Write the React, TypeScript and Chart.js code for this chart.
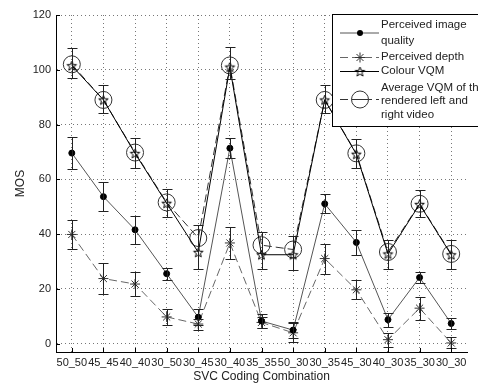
import React, { useEffect, useRef } from 'react';
import { Chart, registerables } from 'chart.js';

Chart.register(...registerables);

const categories = ['50_50', '45_45', '40_40', '30_50', '30_45', '30_40', '35_35', '50_30', '30_35', '45_30', '40_30', '35_30', '30_30'];

const imageQuality = [69.6, 53.7, 41.6, 25.6, 9.7, 71.4, 8.3, 5.0, 51.1, 37.0, 8.8, 24.2, 7.4];
const imageQualityErr = [5.7, 5.3, 5.0, 2.2, 3.0, 3.6, 2.7, 3.0, 3.5, 4.5, 2.5, 1.9, 2.0];

const perceivedDepth = [39.9, 23.8, 21.8, 9.8, 7.2, 36.8, 7.8, 4.0, 31.1, 19.7, 1.5, 13.0, 0.3];
const perceivedDepthErr = [5.4, 5.6, 4.3, 3.0, 2.0, 6.0, 2.0, 3.5, 5.5, 3.5, 2.5, 4.2, 2.0];

const colourVQM = [101.5, 89.0, 69.5, 51.3, 33.4, 101.0, 32.5, 32.5, 89.0, 69.2, 32.8, 50.9, 32.5];
const colourVQMErrUp = [6.6, 5.3, 5.5, 5.1, 10.1, 7.4, 8.3, 7.0, 5.3, 5.4, 5.2, 5.1, 5.2];
const colourVQMErrDown = [4.4, 4.9, 5.2, 5.0, 6.1, 4.2, 5.2, 5.5, 4.9, 4.9, 5.5, 4.7, 5.2];

const avgVQM = [102.0, 89.0, 69.8, 51.6, 38.6, 101.6, 36.0, 34.4, 89.0, 69.5, 33.5, 51.1, 32.8];

const yTicks = [0, 20, 40, 60, 80, 100, 120];
const yMin = -3;
const yMax = 120;

const seriesLabels = ['Perceived image quality', 'Perceived depth', 'Colour VQM', 'Average VQM of the rendered left and right video'];
const legendLines = [['Perceived image', 'quality'], ['Perceived depth'], ['Colour VQM'], ['Average VQM of the', 'rendered left and', 'right video']];

const FONT = '"Liberation Sans", Arial, sans-serif';
const TEXT = '#222';

function makePentagram(r: number, color: string) {
  const size = 13;
  const c = document.createElement('canvas');
  c.width = size;
  c.height = size;
  const ctx = c.getContext('2d')!;
  const cx = size / 2;
  const cy = size / 2 + 0.5;
  ctx.beginPath();
  for (let i = 0; i < 10; i++) {
    const ang = -Math.PI / 2 + (i * Math.PI) / 5;
    const rr = i % 2 === 0 ? r : r * 0.42;
    const x = cx + rr * Math.cos(ang);
    const y = cy + rr * Math.sin(ang);
    if (i === 0) ctx.moveTo(x, y);
    else ctx.lineTo(x, y);
  }
  ctx.closePath();
  ctx.strokeStyle = color;
  ctx.lineWidth = 1;
  ctx.stroke();
  return c;
}

export default function App() {
  const ref = useRef<HTMLCanvasElement>(null);

  useEffect(() => {
    const canvas = ref.current!;
    const pent = makePentagram(5, '#000');

    const errorSets = [
      { data: imageQuality, up: imageQualityErr, down: imageQualityErr, color: '#222' },
      { data: perceivedDepth, up: perceivedDepthErr, down: perceivedDepthErr, color: '#222' },
      { data: colourVQM, up: colourVQMErrUp, down: colourVQMErrDown, color: '#222' },
    ];

    const errorBarPlugin = {
      id: 'errorBars',
      afterDatasetsDraw(chart: any) {
        const { ctx } = chart;
        const xs = chart.scales.x;
        const ys = chart.scales.y;
        ctx.save();
        ctx.lineWidth = 1;
        errorSets.forEach((s) => {
          ctx.strokeStyle = s.color;
          s.data.forEach((v, i) => {
            const x = Math.round(xs.getPixelForValue(i)) + 0.5;
            const yTop = Math.round(ys.getPixelForValue(v + s.up[i])) + 0.5;
            const yBot = Math.round(ys.getPixelForValue(v - s.down[i])) + 0.5;
            ctx.beginPath();
            ctx.moveTo(x, yTop);
            ctx.lineTo(x, yBot);
            ctx.moveTo(x - 5, yTop);
            ctx.lineTo(x + 5, yTop);
            ctx.moveTo(x - 5, yBot);
            ctx.lineTo(x + 5, yBot);
            ctx.stroke();
          });
        });
        ctx.restore();
      },
      afterDraw(chart: any) {
        const { ctx, chartArea } = chart;
        const xs = chart.scales.x;
        const ys = chart.scales.y;
        ctx.save();
        // inward tick marks
        ctx.strokeStyle = '#000';
        ctx.lineWidth = 1;
        ctx.beginPath();
        yTicks.forEach((v) => {
          const y = Math.round(ys.getPixelForValue(v)) + 0.5;
          ctx.moveTo(chartArea.left, y);
          ctx.lineTo(chartArea.left + 4, y);
        });
        categories.forEach((_, i) => {
          const x = Math.round(xs.getPixelForValue(i)) + 0.5;
          ctx.moveTo(x, chartArea.bottom);
          ctx.lineTo(x, chartArea.bottom - 4);
        });
        ctx.stroke();

        // legend
        const lx = 332.5;
        const ly = 14.5;
        ctx.fillStyle = '#fff';
        ctx.fillRect(lx, ly, 170, 112);
        ctx.strokeStyle = '#000';
        ctx.strokeRect(lx, ly, 170, 112);

        const sx0 = 340;
        const sx1 = 379;
        const mx = 360;
        const tx = 381;
        ctx.font = `11.5px ${FONT}`;
        ctx.fillStyle = TEXT;
        ctx.textBaseline = 'middle';
        ctx.textAlign = 'left';

        const sampleYs = [33, 57.5, 71.5, 99.5];
        const textYs = [[25, 41], [57], [71], [87.5, 100.5, 114.5]];
        const dashes = [[], [8, 4], [], [8, 4]];
        const colors = ['#555', '#666', '#000', '#333'];
        sampleYs.forEach((sy, k) => {
          ctx.strokeStyle = colors[k];
          ctx.setLineDash(dashes[k]);
          ctx.beginPath();
          ctx.moveTo(sx0, sy);
          ctx.lineTo(sx1, sy);
          ctx.stroke();
          ctx.setLineDash([]);
          if (k === 0) {
            ctx.fillStyle = '#000';
            ctx.beginPath();
            ctx.arc(mx, sy, 3, 0, Math.PI * 2);
            ctx.fill();
          } else if (k === 1) {
            ctx.strokeStyle = '#333';
            ctx.beginPath();
            ctx.moveTo(mx - 5, sy);
            ctx.lineTo(mx + 5, sy);
            ctx.moveTo(mx, sy - 5);
            ctx.lineTo(mx, sy + 5);
            ctx.moveTo(mx - 3.5, sy - 3.5);
            ctx.lineTo(mx + 3.5, sy + 3.5);
            ctx.moveTo(mx - 3.5, sy + 3.5);
            ctx.lineTo(mx + 3.5, sy - 3.5);
            ctx.stroke();
          } else if (k === 2) {
            ctx.drawImage(pent, mx - pent.width / 2, sy - pent.height / 2);
          } else {
            ctx.fillStyle = '#fff';
            ctx.strokeStyle = '#333';
            ctx.beginPath();
            ctx.arc(mx, sy, 8.5, 0, Math.PI * 2);
            ctx.fill();
            ctx.stroke();
            ctx.beginPath();
            ctx.moveTo(mx - 8.5, sy);
            ctx.lineTo(mx + 8.5, sy);
            ctx.stroke();
          }
          ctx.fillStyle = TEXT;
          legendLines[k].forEach((t, j) => {
            ctx.fillText(t, tx, textYs[k][j]);
          });
        });
        ctx.restore();
      },
    };

    const chart = new Chart(canvas, {
      type: 'line',
      data: {
        labels: categories,
        datasets: [
          {
            label: seriesLabels[0],
            data: imageQuality,
            borderColor: '#555',
            borderWidth: 1,
            tension: 0,
            fill: false,
            pointStyle: 'circle',
            pointRadius: 3,
            pointBackgroundColor: '#000',
            pointBorderColor: '#000',
            pointBorderWidth: 1,
          },
          {
            label: seriesLabels[1],
            data: perceivedDepth,
            borderColor: '#666',
            borderWidth: 1,
            borderDash: [8, 4],
            tension: 0,
            fill: false,
            pointStyle: 'star',
            pointRadius: 5,
            pointBackgroundColor: 'transparent',
            pointBorderColor: '#333',
            pointBorderWidth: 1,
          },
          {
            label: seriesLabels[2],
            data: colourVQM,
            borderColor: '#000',
            borderWidth: 1,
            tension: 0,
            fill: false,
            pointStyle: pent as any,
            pointRadius: 5,
            pointBorderColor: '#000',
          },
          {
            label: seriesLabels[3],
            data: avgVQM,
            borderColor: '#333',
            borderWidth: 1,
            borderDash: [8, 4],
            tension: 0,
            fill: false,
            pointStyle: 'circle',
            pointRadius: 8.5,
            pointBackgroundColor: 'transparent',
            pointBorderColor: '#333',
            pointBorderWidth: 1,
          },
        ],
      },
      options: {
        responsive: false,
        animation: false,
        layout: { padding: { top: 15, right: 11, bottom: 0, left: 0 } },
        plugins: {
          legend: { display: false },
          tooltip: { enabled: false },
        },
        scales: {
          x: {
            type: 'category',
            offset: true,
            grid: { color: '#777', drawTicks: false, tickLength: 0, offset: false },
            border: { display: true, color: '#000', width: 1, dash: [1, 3] },
            ticks: {
              autoSkip: false,
              maxRotation: 0,
              minRotation: 0,
              padding: 4,
              color: TEXT,
              font: { family: FONT, size: 11 },
            },
            title: {
              display: true,
              text: 'SVC Coding Combination',
              color: TEXT,
              font: { family: FONT, size: 12 },
              padding: { top: 2, bottom: 3 },
            },
            afterFit: (s: any) => {
              s.height = 35;
            },
          },
          y: {
            min: yMin,
            max: yMax,
            afterBuildTicks: (s: any) => {
              s.ticks = yTicks.map((v) => ({ value: v }));
            },
            grid: { color: '#777', drawTicks: false, tickLength: 0 },
            border: { display: true, color: '#000', width: 1, dash: [1, 3] },
            ticks: {
              padding: 5,
              color: TEXT,
              font: { family: FONT, size: 11 },
            },
            title: {
              display: true,
              text: 'MOS',
              color: TEXT,
              font: { family: FONT, size: 12 },
              padding: { top: 13, bottom: 0 },
            },
            afterFit: (s: any) => {
              s.width = 56;
            },
          },
        },
      },
      plugins: [errorBarPlugin],
    } as any);

    return () => chart.destroy();
  }, []);

  return (
    <div style={{ position: 'absolute', left: 0, top: 0, width: 478, height: 387, background: '#fff' }}>
      <canvas ref={ref} width={478} height={387} style={{ display: 'block' }} />
    </div>
  );
}
